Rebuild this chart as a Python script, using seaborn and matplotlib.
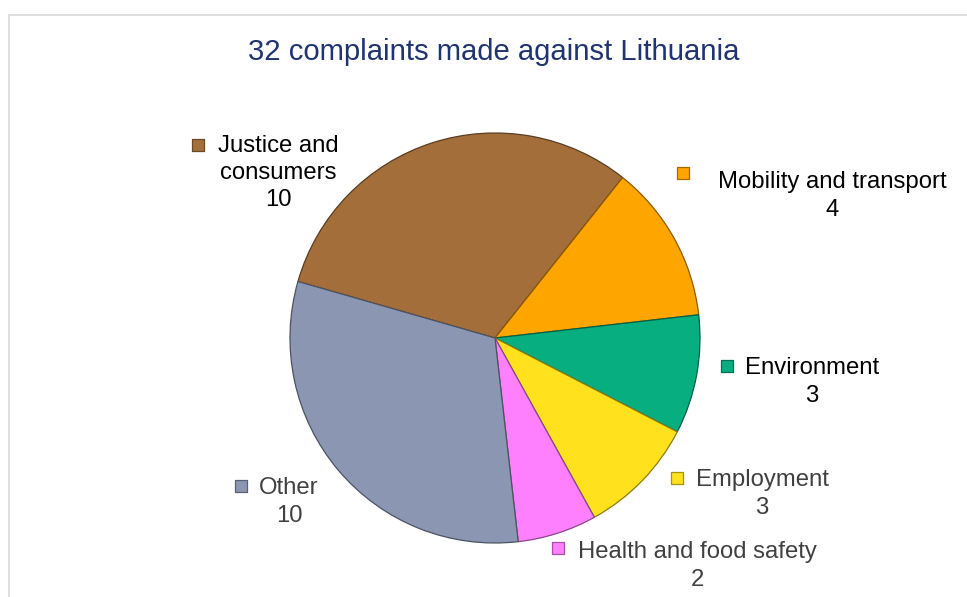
import matplotlib
matplotlib.use("Agg")
import matplotlib.pyplot as plt
import seaborn as sns
from matplotlib.patches import Rectangle

categories = ["Justice and\nconsumers", "Mobility and transport", "Environment",
              "Employment", "Health and food safety", "Other"]
values = [10, 4, 3, 3, 2, 10]
title = "32 complaints made against Lithuania"

sns.set_theme(style="white")
plt.rcParams['font.family'] = ['Liberation Sans', 'DejaVu Sans']

colors = sns.color_palette(["#A46E3A", "#FFA500", "#06AE80", "#FFE11E", "#FF80FF", "#8A96B2"])
label_colors = ["#000000", "#000000", "#000000", "#404040", "#404040", "#404040"]
# label block centre and marker position, in pixels
label_pos = [(278, 173), (832, 196), (812, 382), (762, 494), (697, 566), (289, 502)]
marker_pos = [(198, 145), (683, 173), (727, 366), (677, 478), (558, 548), (241, 486)]

W, H = 967, 597
fig = plt.figure(figsize=(W / 100, H / 100), dpi=100)
fig.patch.set_facecolor("white")
ax = fig.add_axes([0, 0, 1, 1])

cx, cy, r = 495, H - 338, 205
wedges, _ = ax.pie(values, colors=colors, startangle=164, counterclock=False,
                   center=(cx, cy), radius=r, frame=True,
                   wedgeprops=dict(linewidth=0.9))
for w, c in zip(wedges, colors):
    w.set_edgecolor(tuple(v * 0.55 for v in c))
ax.set_xlim(0, W)
ax.set_ylim(0, H)
ax.set_aspect("equal")
ax.axis("off")

# outer chart frame
ax.add_patch(Rectangle((8.5, -20), W + 30, (H - 14.5) + 20, fill=False,
                       edgecolor="#D9D9D9", linewidth=1.2))

for cat, val, (lx, ly), (mx, my), col, tc in zip(categories, values, label_pos,
                                                   marker_pos, colors, label_colors):
    ax.scatter([mx], [H - my], marker="s", s=80, color=col,
               edgecolor=tuple(v * 0.65 for v in col), linewidth=0.9, zorder=5)
    ax.text(lx, H - ly, f"{cat}\n{val}", ha="center", va="center",
            multialignment="center", fontsize=17.2, color=tc, linespacing=1.3)

fig.text(494 / W, 1 - 52 / H, title, ha="center", va="center", fontsize=21.1,
         color="#1F3470")

fig.savefig("out.png", dpi=100, facecolor="white")
